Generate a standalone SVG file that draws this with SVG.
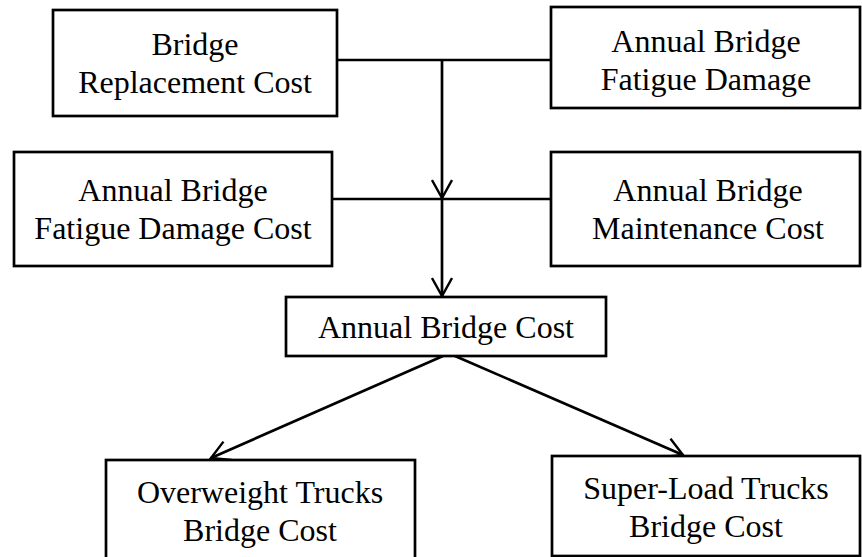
<svg xmlns="http://www.w3.org/2000/svg" width="862" height="557" viewBox="0 0 862 557">
<style>
.box{fill:#fff;stroke:#000;stroke-width:2.7}
.t{font-family:"Liberation Serif","Times New Roman",serif;font-size:32px;fill:#000;text-anchor:middle}
.c{fill:none;stroke:#000;stroke-width:2.7}
</style>
<defs>
<marker id="arr" viewBox="0 0 22 22" refX="19" refY="11" markerWidth="22" markerHeight="22" markerUnits="userSpaceOnUse" orient="auto">
<path d="M1,1 L19,11 L1,21" fill="none" stroke="#000" stroke-width="2.4"/>
</marker>
</defs>
<g id="connectors">
<line class="c" x1="337" y1="60" x2="551" y2="60"/>
<line class="c" x1="442" y1="60" x2="442" y2="198" marker-end="url(#arr)"/>
<line class="c" x1="332" y1="199" x2="551" y2="199"/>
<line class="c" x1="442" y1="199" x2="442" y2="296" marker-end="url(#arr)"/>
<line class="c" x1="443" y1="356" x2="211" y2="458" marker-end="url(#arr)"/>
<line class="c" x1="455" y1="356" x2="683" y2="455" marker-end="url(#arr)"/>
</g>
<g id="n1">
<rect class="box" x="53" y="10" width="284" height="106"/>
<text class="t" x="195" y="55">Bridge</text>
<text class="t" x="195" y="93">Replacement Cost</text>
</g>
<g id="n2">
<rect class="box" x="551" y="7" width="309" height="101"/>
<text class="t" x="706" y="52">Annual Bridge</text>
<text class="t" x="706" y="90">Fatigue Damage</text>
</g>
<g id="n3">
<rect class="box" x="14" y="152" width="318" height="114"/>
<text class="t" x="173" y="201">Annual Bridge</text>
<text class="t" x="173" y="239">Fatigue Damage Cost</text>
</g>
<g id="n4">
<rect class="box" x="551" y="152" width="309" height="114"/>
<text class="t" x="708" y="201">Annual Bridge</text>
<text class="t" x="708" y="239">Maintenance Cost</text>
</g>
<g id="n5">
<rect class="box" x="286" y="297" width="320" height="59"/>
<text class="t" x="446" y="338">Annual Bridge Cost</text>
</g>
<g id="n6">
<rect class="box" x="106" y="460" width="309" height="100"/>
<text class="t" x="260" y="503">Overweight Trucks</text>
<text class="t" x="260" y="541">Bridge Cost</text>
</g>
<g id="n7">
<rect class="box" x="552" y="456" width="308" height="100"/>
<text class="t" x="706" y="499">Super-Load Trucks</text>
<text class="t" x="706" y="537">Bridge Cost</text>
</g>
</svg>
